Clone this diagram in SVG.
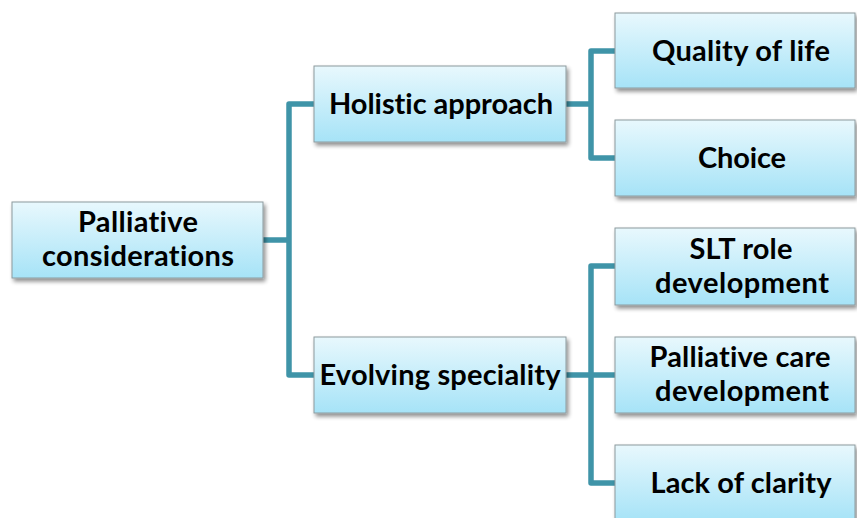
<svg xmlns="http://www.w3.org/2000/svg" width="857" height="518" viewBox="0 0 857 518">
<style>
.box{fill:url(#g);stroke:#8c9a9e;stroke-width:1;filter:url(#sh)}
.t{font-family:Lato,"Open Sans","Liberation Sans",sans-serif;font-weight:700;font-size:29px;fill:#000;text-anchor:middle;font-variant-ligatures:none}
.c{fill:none;stroke:#3F94A8;stroke-width:5.5;stroke-linejoin:round}
</style>
<defs>
<linearGradient id="g" x1="0" y1="0" x2="0" y2="1">
<stop offset="0" stop-color="#E8F8FD"/>
<stop offset="1" stop-color="#A6E3F7"/>
</linearGradient>
<filter id="sh" x="-10%" y="-10%" width="130%" height="140%">
<feGaussianBlur in="SourceAlpha" stdDeviation="2"/>
<feOffset dx="2" dy="3" result="b"/>
<feComponentTransfer><feFuncA type="linear" slope="0.45"/></feComponentTransfer>
<feMerge><feMergeNode/><feMergeNode in="SourceGraphic"/></feMerge>
</filter>
</defs>
<rect width="857" height="518" fill="#fff"/>
<g id="connectors">
<path class="c" d="M263 240 H289 M314 104 H289 V375 H314"/>
<path class="c" d="M566 104 H591 M615 51 H591 V158 H615"/>
<path class="c" d="M566 375 H591 M615 266 H591 V483 H615 M591 375 H615"/>
</g>
<g id="root"><rect class="box" x="12" y="202" width="251" height="76"/>
<text class="t" x="138" y="232" textLength="120">Palliative</text>
<text class="t" x="138" y="266" textLength="192">considerations</text></g>
<g id="holistic"><rect class="box" x="314" y="66" width="252" height="76"/>
<text class="t" x="441" y="114" textLength="224">Holistic approach</text></g>
<g id="evolving"><rect class="box" x="314" y="337" width="252" height="76"/>
<text class="t" x="440" y="385" textLength="241">Evolving speciality</text></g>
<g id="quality"><rect class="box" x="615" y="13" width="240" height="75"/>
<text class="t" x="741" y="61" textLength="178">Quality of life</text></g>
<g id="choice"><rect class="box" x="615" y="120" width="240" height="76"/>
<text class="t" x="742" y="168" textLength="88">Choice</text></g>
<g id="slt"><rect class="box" x="615" y="228" width="240" height="77"/>
<text class="t" x="741" y="259" textLength="103">SLT role</text>
<text class="t" x="742" y="293" textLength="174">development</text></g>
<g id="pcd"><rect class="box" x="615" y="337" width="240" height="76"/>
<text class="t" x="740" y="367" textLength="181">Palliative care</text>
<text class="t" x="742" y="401" textLength="174">development</text></g>
<g id="lack"><rect class="box" x="615" y="445" width="240" height="76"/>
<text class="t" x="741" y="493" textLength="181">Lack of clarity</text></g>
</svg>
